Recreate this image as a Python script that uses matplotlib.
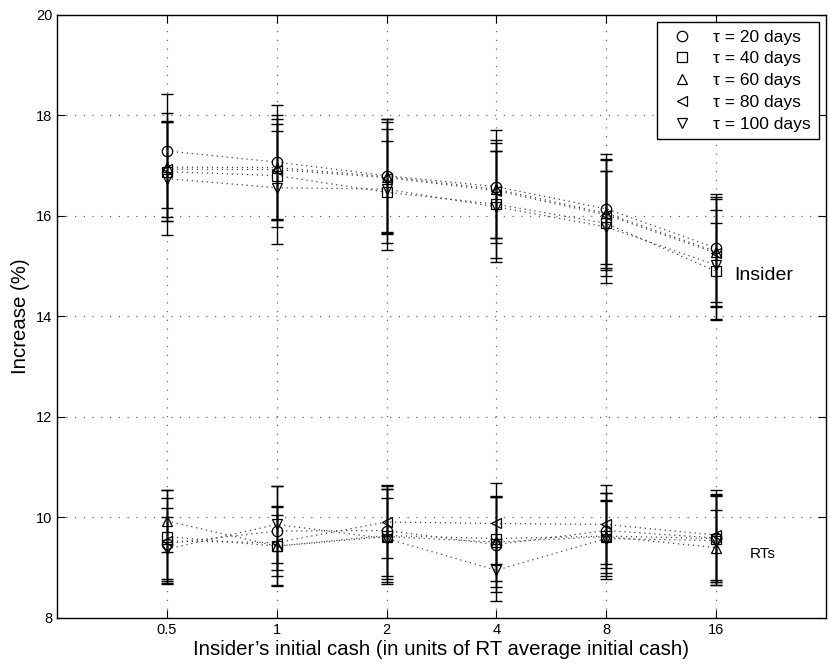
import numpy as np
from matplotlib import pyplot as plt

cash_labels = ['0.5', '1', '2', '4', '8', '16']
taus = [20, 40, 60, 80, 100]
markers = ['o', 's', '^', '<', 'v']

# insider increase (%) per tau, per cash level
insider_mean = {
    20: [17.29, 17.07, 16.80, 16.58, 16.14, 15.36],
    40: [16.88, 16.80, 16.47, 16.23, 15.85, 14.90],
    60: [16.97, 16.96, 16.78, 16.53, 16.05, 15.29],
    80: [16.93, 16.92, 16.76, 16.50, 16.02, 15.26],
    100: [16.74, 16.56, 16.53, 16.18, 15.78, 15.02],
}
insider_err = {
    20: [1.13, 1.13, 1.12, 1.12, 1.10, 1.07],
    40: [0.98, 1.02, 1.02, 1.06, 1.04, 0.95],
    60: [1.07, 1.05, 1.14, 0.98, 1.08, 1.08],
    80: [0.96, 1.00, 1.10, 0.95, 1.10, 1.08],
    100: [1.13, 1.13, 1.20, 1.10, 1.12, 1.09],
}
# RT increase (%)
rt_mean = {
    20: [9.48, 9.73, 9.74, 9.46, 9.74, 9.59],
    40: [9.62, 9.43, 9.64, 9.58, 9.63, 9.58],
    60: [9.93, 9.43, 9.62, 9.51, 9.62, 9.40],
    80: [9.53, 9.50, 9.91, 9.88, 9.86, 9.65],
    100: [9.37, 9.86, 9.58, 8.95, 9.58, 9.54],
}
rt_err = {
    20: [0.70, 0.90, 0.90, 0.95, 0.75, 0.88],
    40: [0.92, 0.80, 0.93, 0.85, 0.85, 0.86],
    60: [0.62, 0.78, 0.95, 0.90, 0.72, 0.74],
    80: [0.85, 0.55, 0.72, 0.80, 0.78, 0.90],
    100: [0.64, 0.77, 0.80, 0.62, 0.75, 0.88],
}


def main():
    plt.rcParams['font.family'] = ['Liberation Sans', 'DejaVu Sans']
    fig = plt.figure(figsize=(8.3, 6.71), dpi=100)
    ax = fig.add_axes([0.0687, 0.079, 0.9263, 0.899])

    x = np.arange(1, len(cash_labels) + 1)
    for tau, mk in zip(taus, markers):
        for mean, err in ((insider_mean, insider_err), (rt_mean, rt_err)):
            ax.errorbar(x, mean[tau], yerr=err[tau], fmt='none', ecolor='black',
                        elinewidth=1.0, capsize=4.5, capthick=1.0, zorder=2)
            ax.plot(x, mean[tau], color='#444444', ls=(0, (1, 3)), lw=0.9, zorder=3)
            ax.plot(x, mean[tau], ls='none', marker=mk, ms=7.5, mfc='none',
                    mec='black', mew=0.9, zorder=4)
        # legend handle
        ax.plot([], [], ls='none', marker=mk, ms=7.5, mfc='none', mec='black',
                mew=0.9, label='\u03c4 = %d days' % tau)

    ax.set_xlim(0, 7)
    ax.set_ylim(8, 20)
    ax.set_xticks(x)
    ax.set_xticklabels(cash_labels)
    ax.set_yticks(np.arange(8, 21, 2))
    ax.grid(True, ls=(0, (1, 6)), color='#666666', lw=0.9)
    ax.tick_params(direction='in', top=True, right=True, length=6, labelsize=10.5)
    for s in ax.spines.values():
        s.set_linewidth(1.0)

    ax.set_xlabel('Insider\u2019s initial cash (in units of RT average initial cash)',
                  fontsize=14.7, labelpad=2)
    ax.set_ylabel('Increase (%)', fontsize=14.7, labelpad=4)

    ax.text(6.17, 14.82, 'Insider', fontsize=14, va='center', ha='left')
    ax.text(6.31, 9.28, 'RTs', fontsize=11, va='center', ha='left')

    leg = ax.legend(loc='upper right', fontsize=12.5, frameon=True, fancybox=False,
                    edgecolor='black', framealpha=1, handletextpad=0.8,
                    borderpad=0.45, labelspacing=0.38, borderaxespad=0.4)
    leg.get_frame().set_linewidth(1.0)

    plt.savefig('out.png')


if __name__ == '__main__':
    main()
